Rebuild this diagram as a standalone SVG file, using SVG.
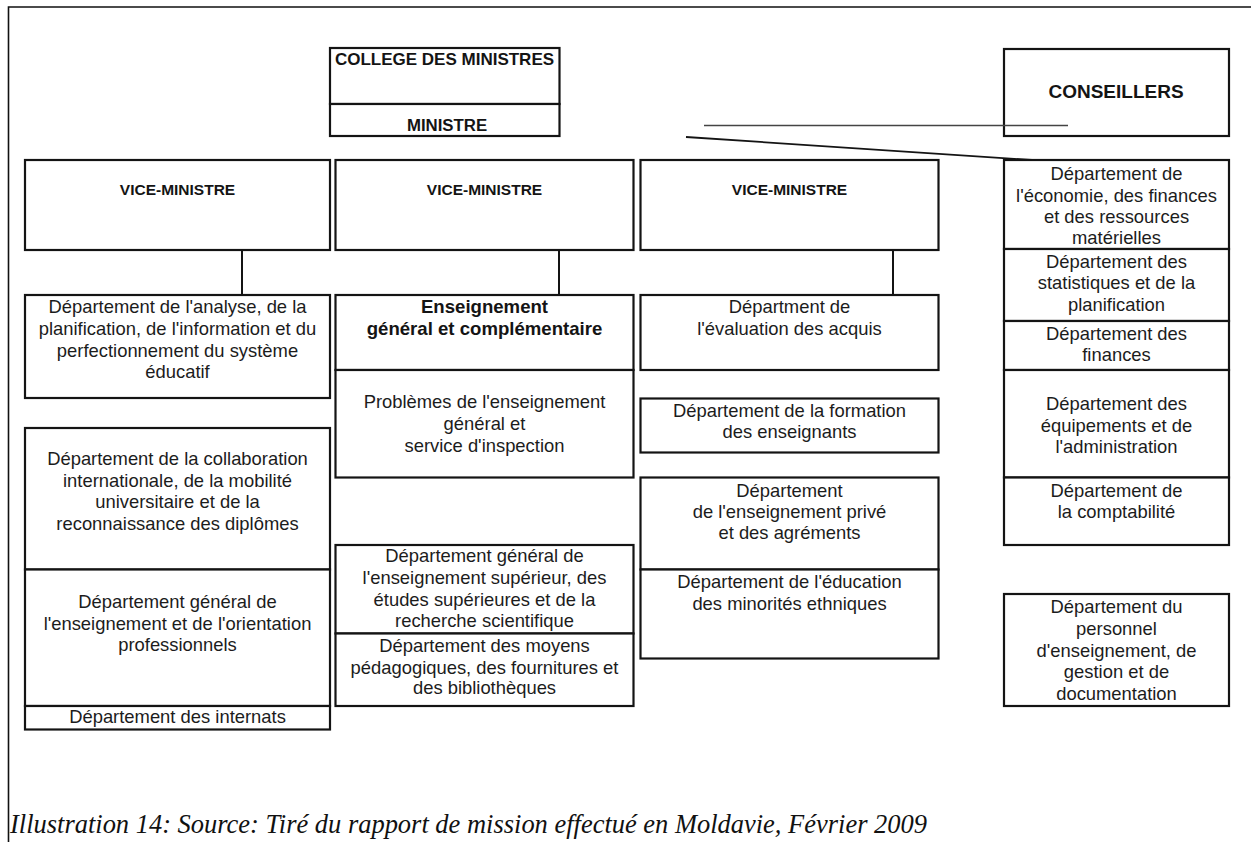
<svg xmlns="http://www.w3.org/2000/svg" width="1251" height="842" viewBox="0 0 1251 842">
<style>
.box{fill:#fff;stroke:#141414;stroke-width:2.2}
.t{font-family:"Liberation Sans",Arial,sans-serif;font-size:18.4px;fill:#1c1c1c;text-anchor:middle}
.b{font-family:"Liberation Sans",Arial,sans-serif;font-weight:bold;fill:#141414;text-anchor:middle}
.cap{font-family:"Liberation Serif","Times New Roman",serif;font-style:italic;font-size:27px;fill:#111}
.frame{stroke:#111;stroke-width:1.6;fill:none}
</style>
<rect width="1251" height="842" fill="#fff"/>
<path class="frame" d="M8.5 842 V7 H1251"/>
<g id="n-college"><rect class="box" x="330" y="48" width="229.5" height="56"/><text class="b" x="444.5" y="65" font-size="17">COLLEGE DES MINISTRES</text></g>
<g id="n-ministre"><rect class="box" x="330" y="104" width="229.5" height="32"/><text class="b" x="447" y="130.5" font-size="16.8">MINISTRE</text></g>
<g id="n-conseillers"><rect class="box" x="1004" y="49" width="225" height="87"/><text class="b" x="1116" y="97.5" font-size="19">CONSEILLERS</text></g>
<g id="n-vm1"><rect class="box" x="25" y="160" width="305" height="90"/><text class="b" x="177.5" y="194.5" font-size="15.5">VICE-MINISTRE</text></g>
<g id="n-vm2"><rect class="box" x="335.5" y="160" width="298" height="90"/><text class="b" x="484.5" y="194.5" font-size="15.5">VICE-MINISTRE</text></g>
<g id="n-vm3"><rect class="box" x="640.5" y="160" width="298" height="90"/><text class="b" x="789.5" y="194.5" font-size="15.5">VICE-MINISTRE</text></g>
<g id="n-c1a"><rect class="box" x="25" y="295" width="305" height="103"/><text class="t"><tspan x="177.5" y="313.3">Département de l'analyse, de la</tspan><tspan x="177.5" y="335">planification, de l'information et du</tspan><tspan x="177.5" y="356.7">perfectionnement du système</tspan><tspan x="177.5" y="378.3">éducatif</tspan></text></g>
<g id="n-c1b"><rect class="box" x="25" y="428" width="305" height="141.5"/><text class="t"><tspan x="177.5" y="465">Département de la collaboration</tspan><tspan x="177.5" y="486.7">internationale, de la mobilité</tspan><tspan x="177.5" y="508.3">universitaire et de la</tspan><tspan x="177.5" y="530">reconnaissance des diplômes</tspan></text></g>
<g id="n-c1c"><rect class="box" x="25" y="569.5" width="305" height="136.5"/><text class="t"><tspan x="177.5" y="608.3">Département général de</tspan><tspan x="177.5" y="630">l'enseignement et de l'orientation</tspan><tspan x="177.5" y="650.7">professionnels</tspan></text></g>
<g id="n-c1d"><rect class="box" x="25" y="706" width="305" height="23.5"/><text class="t" x="177.5" y="723.3">Département des internats</text></g>
<g id="n-c2a"><rect class="box" x="335.5" y="295" width="298" height="75"/><text class="b" font-size="18.6"><tspan x="484.5" y="313.3">Enseignement</tspan><tspan x="484.5" y="335">général et complémentaire</tspan></text></g>
<g id="n-c2b"><rect class="box" x="335.5" y="370" width="298" height="107.5"/><text class="t"><tspan x="484.5" y="408.3">Problèmes de l'enseignement</tspan><tspan x="484.5" y="430">général et</tspan><tspan x="484.5" y="451.7">service d'inspection</tspan></text></g>
<g id="n-c2c"><rect class="box" x="335.5" y="545" width="298" height="88.5"/><text class="t"><tspan x="484.5" y="562">Département général de</tspan><tspan x="484.5" y="584">l'enseignement supérieur, des</tspan><tspan x="484.5" y="606">études supérieures et de la</tspan><tspan x="484.5" y="627">recherche scientifique</tspan></text></g>
<g id="n-c2d"><rect class="box" x="335.5" y="633.5" width="298" height="72.5"/><text class="t"><tspan x="484.5" y="652">Département des moyens</tspan><tspan x="484.5" y="673.5">pédagogiques, des fournitures et</tspan><tspan x="484.5" y="694">des bibliothèques</tspan></text></g>
<g id="n-c3a"><rect class="box" x="640.5" y="295" width="298" height="75"/><text class="t"><tspan x="789.5" y="313.3">Départment de</tspan><tspan x="789.5" y="335">l'évaluation des acquis</tspan></text></g>
<g id="n-c3b"><rect class="box" x="640.5" y="398.5" width="298" height="54"/><text class="t"><tspan x="789.5" y="416.7">Département de la formation</tspan><tspan x="789.5" y="438.3">des enseignants</tspan></text></g>
<g id="n-c3c"><rect class="box" x="640.5" y="477.5" width="298" height="92"/><text class="t"><tspan x="789.5" y="496.7">Département</tspan><tspan x="789.5" y="518.3">de l'enseignement privé</tspan><tspan x="789.5" y="539">et des agréments</tspan></text></g>
<g id="n-c3d"><rect class="box" x="640.5" y="569.5" width="298" height="89"/><text class="t"><tspan x="789.5" y="588.3">Département de l'éducation</tspan><tspan x="789.5" y="610">des minorités ethniques</tspan></text></g>
<g id="n-r1"><rect class="box" x="1004" y="160" width="225" height="89"/><text class="t"><tspan x="1116.5" y="180">Département de</tspan><tspan x="1116.5" y="201.7">l'économie, des finances</tspan><tspan x="1116.5" y="222.7">et des ressources</tspan><tspan x="1116.5" y="244.3">matérielles</tspan></text></g>
<g id="n-r2"><rect class="box" x="1004" y="249" width="225" height="72"/><text class="t"><tspan x="1116.5" y="268.3">Département des</tspan><tspan x="1116.5" y="289">statistiques et de la</tspan><tspan x="1116.5" y="310.7">planification</tspan></text></g>
<g id="n-r3"><rect class="box" x="1004" y="321" width="225" height="49"/><text class="t"><tspan x="1116.5" y="340">Département des</tspan><tspan x="1116.5" y="360.7">finances</tspan></text></g>
<g id="n-r4"><rect class="box" x="1004" y="370" width="225" height="107.5"/><text class="t"><tspan x="1116.5" y="410">Département des</tspan><tspan x="1116.5" y="431.7">équipements et de</tspan><tspan x="1116.5" y="452.7">l'administration</tspan></text></g>
<g id="n-r5"><rect class="box" x="1004" y="477.5" width="225" height="67.5"/><text class="t"><tspan x="1116.5" y="496.7">Département de</tspan><tspan x="1116.5" y="518.3">la comptabilité</tspan></text></g>
<g id="n-r6"><rect class="box" x="1004" y="594" width="225" height="112"/><text class="t"><tspan x="1116.5" y="613.3">Département du</tspan><tspan x="1116.5" y="635">personnel</tspan><tspan x="1116.5" y="656.7">d'enseignement, de</tspan><tspan x="1116.5" y="678.3">gestion et de</tspan><tspan x="1116.5" y="700">documentation</tspan></text></g>
<g id="connectors" fill="none" stroke="#141414">
<line x1="242" y1="250" x2="242" y2="295" stroke-width="2"/>
<line x1="559" y1="250" x2="559" y2="295" stroke-width="2"/>
<line x1="893" y1="250" x2="893" y2="295" stroke-width="2"/>
<line x1="704" y1="125.5" x2="1068" y2="125.5" stroke="#444" stroke-width="1.6"/>
<line x1="686" y1="137" x2="1032" y2="160" stroke-width="1.8"/>
</g>
<text class="cap" x="10" y="833" textLength="917" lengthAdjust="spacingAndGlyphs">Illustration 14: Source: Tiré du rapport de mission effectué en Moldavie, Février 2009</text>
</svg>
